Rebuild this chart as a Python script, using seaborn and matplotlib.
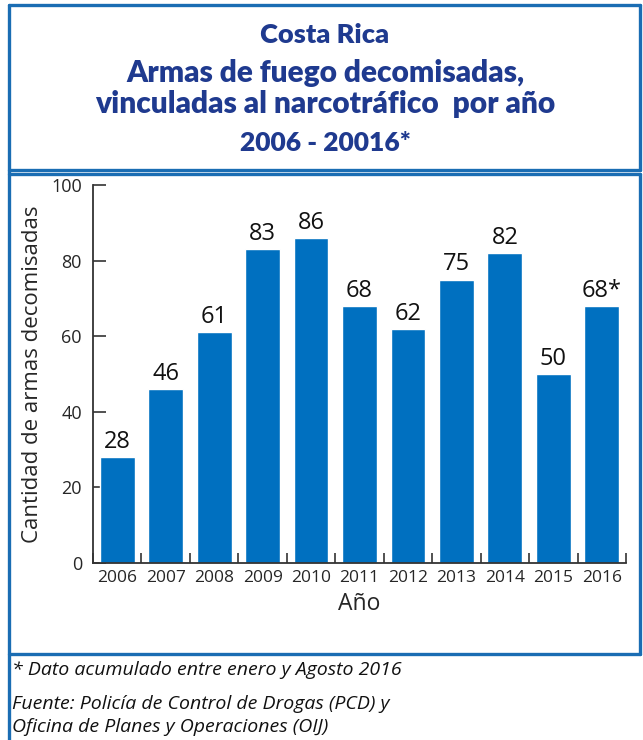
import numpy as np
import pandas as pd
import matplotlib
matplotlib.use("Agg")
import matplotlib.pyplot as plt
from matplotlib.lines import Line2D
import seaborn as sns

### Data
years = ["2006", "2007", "2008", "2009", "2010", "2011", "2012", "2013", "2014", "2015", "2016"]
armas = [28, 46, 61, 83, 86, 68, 62, 75, 82, 50, 68]
etiquetas = ["28", "46", "61", "83", "86", "68", "62", "75", "82", "50", "68*"]

titulo = ["Costa Rica", "Armas de fuego decomisadas,",
          "vinculadas al narcotráfico  por año", "2006 - 20016*"]
nota = "* Dato acumulado entre enero y Agosto 2016"
fuente = ["Fuente: Policía de Control de Drogas (PCD) y",
          "Oficina de Planes y Operaciones (OIJ)"]

df = pd.DataFrame({"Año": years, "Cantidad": armas})

sns.set_style("white")
plt.rcParams['font.family'] = ['Open Sans', 'DejaVu Sans']

W, H = 643, 740
fig = plt.figure(figsize=(W / 100, H / 100), dpi=100)

def fx(x):
    return x / W

def fy(y):
    return 1 - y / H

bar_color = "#0070c0"
frame_color = "#1a6db3"
title_color = "#1f3a8f"

ax = fig.add_axes([fx(93), fy(563), fx(626) - fx(93), fy(185) - fy(563)])
sns.barplot(data=df, x="Año", y="Cantidad", color=bar_color, width=0.72,
            saturation=1, ax=ax)

ax.set_xlim(-0.5, 10.5)
ax.set_ylim(0, 100)
ax.set_yticks([0, 20, 40, 60, 80, 100])

for i, (v, lab) in enumerate(zip(armas, etiquetas)):
    ax.text(i, v + 0.8, lab, ha="center", va="bottom", fontsize=17, color="#111111")

for s in ["top", "right"]:
    ax.spines[s].set_visible(False)
for s in ["left", "bottom"]:
    ax.spines[s].set_color("#333333")
    ax.spines[s].set_linewidth(1.3)

ax.tick_params(axis="y", direction="in", length=9, width=1.2, color="#333333",
               labelsize=13, pad=8, left=True)
ax.tick_params(axis="x", which="major", length=0, labelsize=12.5, pad=5)
ax.set_xticks(np.arange(-0.5, 11, 1), minor=True)
ax.tick_params(axis="x", which="minor", direction="in", length=7, width=1.2,
               color="#333333", bottom=True)

ax.set_ylabel("Cantidad de armas decomisadas", fontsize=16, labelpad=6)
ax.set_xlabel("Año", fontsize=16.5, labelpad=4)

# titles
ty = [35, 73, 104, 143]
sizes = [19.5, 21.5, 21.5, 19]
for t, y, s in zip(titulo, ty, sizes):
    fig.text(fx(325), fy(y), t, ha="center", va="center", fontsize=s,
             fontweight="heavy", color=title_color, family=["Lato", "DejaVu Sans"])

# frames
def line(x0, y0, x1, y1):
    fig.add_artist(Line2D([fx(x0), fx(x1)], [fy(y0), fy(y1)], color=frame_color,
                          lw=2.4, transform=fig.transFigure))

line(9, 5, 640, 5)
line(640, 5, 640, 170)
line(9, 170, 640, 170)
line(9, 174, 640, 174)
line(640, 174, 640, 654)
line(9, 654, 640, 654)
line(9, 5, 9, 740)

fig.text(fx(12), fy(670), nota, ha="left", va="center", fontsize=14,
         style="italic", color="#111111")
fig.text(fx(12), fy(704), fuente[0], ha="left", va="center", fontsize=14,
         style="italic", color="#111111")
fig.text(fx(12), fy(727), fuente[1], ha="left", va="center", fontsize=14,
         style="italic", color="#111111")

fig.savefig("out.png", dpi=100)
